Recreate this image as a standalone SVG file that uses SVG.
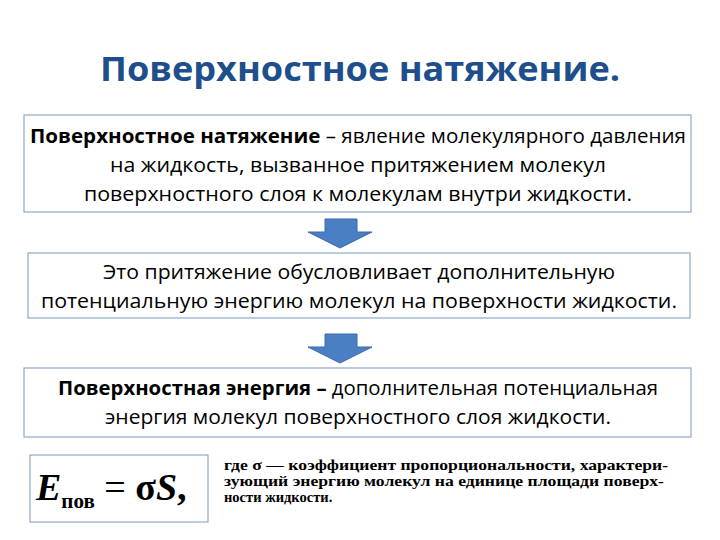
<svg xmlns="http://www.w3.org/2000/svg" width="720" height="540" viewBox="0 0 720 540">
<style>
.box{fill:#fff;stroke:#8eaacb;stroke-width:1.2}
.t{font-family:"Open Sans","Liberation Sans",sans-serif;font-size:19.5px;fill:#000;text-anchor:middle}
.s{font-family:"Liberation Serif",serif;font-size:14.5px;font-weight:bold;fill:#000}
.arr{fill:#4a7fc4;stroke:#3a69a8;stroke-width:1}
</style>
<rect width="720" height="540" fill="#fff"/>
<text x="360" y="81" font-family="'Open Sans','Liberation Sans',sans-serif" font-size="34" font-weight="bold" fill="#1f4e8c" text-anchor="middle" textLength="520" lengthAdjust="spacingAndGlyphs">Поверхностное натяжение.</text>
<g id="box1">
<rect class="box" x="24" y="115" width="667" height="97"/>
<text class="t" x="358" y="143" textLength="656" lengthAdjust="spacingAndGlyphs"><tspan font-weight="bold">Поверхностное натяжение</tspan> – явление молекулярного давления</text>
<text class="t" x="358" y="172" textLength="496" lengthAdjust="spacingAndGlyphs">на жидкость, вызванное притяжением молекул</text>
<text class="t" x="358" y="201" textLength="548" lengthAdjust="spacingAndGlyphs">поверхностного слоя к молекулам внутри жидкости.</text>
</g>
<g id="box2">
<rect class="box" x="28" y="253" width="662" height="65"/>
<text class="t" x="359" y="279" textLength="512" lengthAdjust="spacingAndGlyphs">Это притяжение обусловливает дополнительную</text>
<text class="t" x="359" y="308" textLength="636" lengthAdjust="spacingAndGlyphs">потенциальную энергию молекул  на поверхности жидкости.</text>
</g>
<g id="box3">
<rect class="box" x="24" y="368" width="667" height="69"/>
<text class="t" x="358" y="395" textLength="600" lengthAdjust="spacingAndGlyphs"><tspan font-weight="bold">Поверхностная энергия –</tspan> дополнительная потенциальная</text>
<text class="t" x="358" y="424" textLength="506" lengthAdjust="spacingAndGlyphs">энергия молекул поверхностного слоя жидкости.</text>
</g>
<g id="connectors">
<path class="arr" d="M325 219H357V232H372L340 248L308 232H325Z"/>
<path class="arr" d="M325 334H357V347H372L340 363L308 347H325Z"/>
</g>
<g id="formula">
<rect x="30" y="455" width="178" height="67" fill="#fff" stroke="#7f99b5" stroke-width="1"/>
<text x="36" y="500" font-family="'Liberation Serif',serif" font-size="38" font-weight="bold"><tspan font-style="italic">E</tspan><tspan font-size="21" dy="8">пов</tspan><tspan dy="-8" font-weight="normal"> = </tspan>σ<tspan font-style="italic">S</tspan>,</text>
</g>
<g id="note">
<text class="s" x="224" y="470" textLength="444" lengthAdjust="spacingAndGlyphs">где σ — коэффициент пропорциональности, характери-</text>
<text class="s" x="224" y="486" textLength="440" lengthAdjust="spacingAndGlyphs">зующий энергию молекул на единице площади поверх-</text>
<text class="s" x="224" y="502">ности жидкости.</text>
</g>
</svg>
